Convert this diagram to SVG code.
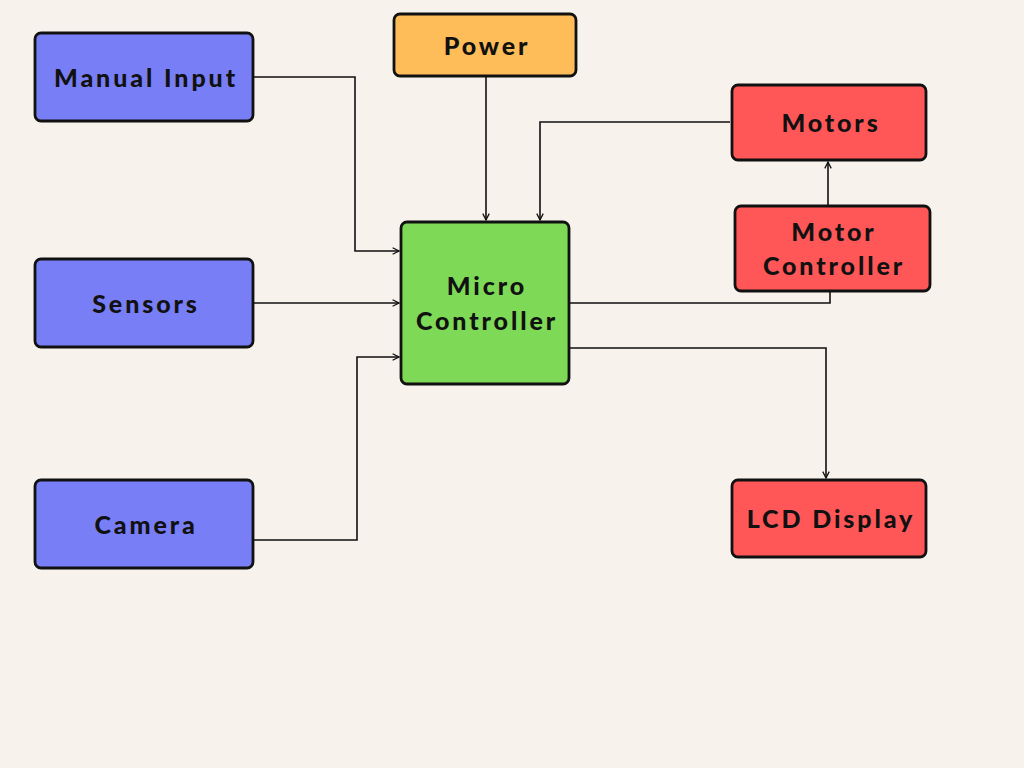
<svg xmlns="http://www.w3.org/2000/svg" width="1024" height="768" viewBox="0 0 1024 768">
<defs>
<marker id="arr" viewBox="0 0 10 10" refX="9" refY="5" markerWidth="8" markerHeight="8" markerUnits="userSpaceOnUse" orient="auto">
<path d="M1,1 L9,5 L1,9" fill="none" stroke="#111" stroke-width="1.6"/>
</marker>
<style>
.box{stroke:#111;stroke-width:2.8}
.blue{fill:#787FF6}
.orange{fill:#FFBD59}
.green{fill:#7ED957}
.red{fill:#FF5757}
.lbl{font-family:"Lato","Liberation Sans",sans-serif;font-weight:900;font-size:25px;fill:#111;text-anchor:middle;dominant-baseline:central;letter-spacing:2.9px}
.c{fill:none;stroke:#111;stroke-width:1.6}
</style>
</defs>
<rect width="1024" height="768" fill="#F7F3EC"/>
<g id="connectors">
<path class="c" d="M254,77 H355 V251 H399" marker-end="url(#arr)"/>
<path class="c" d="M486,77 V220" marker-end="url(#arr)"/>
<path class="c" d="M730,122 H540 V220" marker-end="url(#arr)"/>
<path class="c" d="M254,303 H399" marker-end="url(#arr)"/>
<path class="c" d="M254,540 H357 V357 H399" marker-end="url(#arr)"/>
<path class="c" d="M570,303 H830 V292"/>
<path class="c" d="M828,205 V162" marker-end="url(#arr)"/>
<path class="c" d="M570,348 H826 V478" marker-end="url(#arr)"/>
</g>
<g id="manual-input"><rect class="box blue" x="35" y="33" width="218" height="88" rx="6"/><text class="lbl" x="146" y="76.5">Manual Input</text></g>
<g id="power"><rect class="box orange" x="394" y="14" width="182" height="62" rx="6"/><text class="lbl" x="487" y="44.5">Power</text></g>
<g id="sensors"><rect class="box blue" x="35" y="259" width="218" height="88" rx="6"/><text class="lbl" x="146" y="302.5">Sensors</text></g>
<g id="camera"><rect class="box blue" x="35" y="480" width="218" height="88" rx="6"/><text class="lbl" x="146" y="523.5">Camera</text></g>
<g id="micro-controller"><rect class="box green" x="401" y="222" width="168" height="162" rx="6"/><text class="lbl" x="487" y="284.5">Micro</text><text class="lbl" x="487" y="319.5">Controller</text></g>
<g id="motors"><rect class="box red" x="732" y="85" width="194" height="75" rx="6"/><text class="lbl" x="831" y="121.5">Motors</text></g>
<g id="motor-controller"><rect class="box red" x="735" y="206" width="195" height="85" rx="6"/><text class="lbl" x="834" y="230.5">Motor</text><text class="lbl" x="834" y="264.5">Controller</text></g>
<g id="lcd-display"><rect class="box red" x="732" y="480" width="194" height="77" rx="6"/><text class="lbl" x="831" y="517.5">LCD Display</text></g>
</svg>
